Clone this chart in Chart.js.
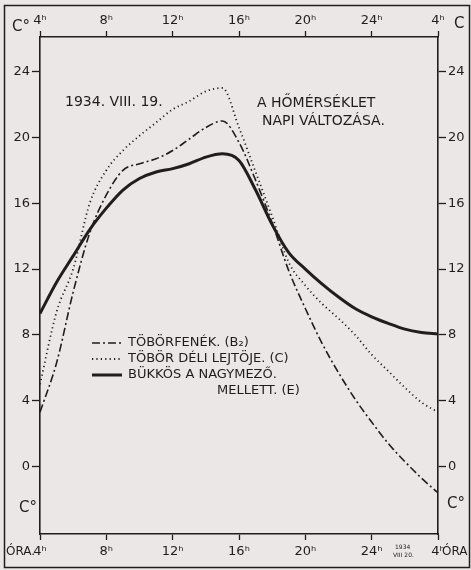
<!DOCTYPE html>
<html>
<head>
<meta charset="utf-8">
<script src="https://cdn.jsdelivr.net/npm/chart.js@4/dist/chart.umd.min.js"></script>
<style>
  html, body { margin: 0; padding: 0; background: #ebe7e6; }
  canvas { display: block; }
</style>
</head>
<body>
<canvas id="chart" width="471" height="570"></canvas>
<script>
// hours of the day (4h .. next day's 4h)
var hours  = [4, 5, 6, 7, 8, 9, 10, 11, 12, 13, 14, 15, 16, 17, 18, 19, 20, 21, 22, 23, 24, 25, 26, 27, 28];
// temperatures, °C
var tempB2 = [3.3, 6.3, 10.6, 14.2, 16.5, 18.0, 18.4, 18.7, 19.2, 19.9, 20.6, 21.0, 19.7, 17.4, 14.8, 11.9, 9.6, 7.5, 5.7, 4.1, 2.7, 1.4, 0.3, -0.7, -1.6];
var tempC  = [5.0, 9.4, 12.0, 16.0, 18.0, 19.2, 20.1, 20.9, 21.7, 22.2, 22.8, 23.0, 20.6, 17.9, 15.2, 12.4, 11.0, 9.9, 9.0, 8.0, 6.8, 5.8, 4.8, 3.9, 3.3];
var tempE  = [9.3, 11.2, 12.8, 14.4, 15.7, 16.8, 17.5, 17.9, 18.1, 18.4, 18.8, 19.0, 18.6, 16.8, 14.7, 13.0, 12.0, 11.1, 10.3, 9.6, 9.1, 8.7, 8.35, 8.15, 8.05];

var hourTicks  = [4, 8, 12, 16, 20, 24, 28];
var hourLabels = ['4ʰ', '8ʰ', '12ʰ', '16ʰ', '20ʰ', '24ʰ', '4ʰ'];
var tempTicks  = [0, 4, 8, 12, 16, 20, 24];
var seriesNames = ['TÖBÖRFENÉK. (B₂)', 'TÖBÖR DÉLI LEJTÖJE. (C)', 'BÜKKÖS A NAGYMEZŐ.'];

var ink = '#1f1d1d';
var paper = '#ebe7e6';
var font = 'DejaVu Sans';

function points(vals){
    return hours.map(function(h, i){ return {x: h, y: vals[i]}; });
}

function fixTicks(list){
    return function(scale){
        scale.ticks = list.map(function(v){ return {value: v}; });
    };
}

var decor = {
    id: 'decor',
    beforeDraw: function(chart){
        var ctx = chart.ctx;
        ctx.save();
        ctx.fillStyle = paper;
        ctx.fillRect(0, 0, chart.width, chart.height);
        ctx.restore();
    },
    afterDraw: function(chart){
        var ctx = chart.ctx;
        ctx.save();
        ctx.strokeStyle = ink;
        ctx.fillStyle = ink;
        ctx.lineWidth = 1.5;
        ctx.setLineDash([]);
        ctx.strokeRect(4.5, 5.5, chart.width - 6, chart.height - 8);

        ctx.textBaseline = 'middle';
        ctx.textAlign = 'left';
        ctx.font = '15px ' + font;
        ctx.fillText('C°', 12, 27);
        ctx.fillText('C', 454, 24);
        ctx.fillText('C°', 19, 508);
        ctx.fillText('C°', 447, 504);

        ctx.font = '12px ' + font;
        ctx.fillText('ÓRA.', 6, 552);
        ctx.fillText('ÓRA', 442, 552);
        ctx.font = '6px ' + font;
        ctx.fillText('1934', 395, 547);
        ctx.fillText('VIII 20.', 393, 555);

        ctx.font = '14px ' + font;
        ctx.fillText('1934. VIII. 19.', 65, 102, 105);
        ctx.fillText('A HŐMÉRSÉKLET', 257, 103, 127);
        ctx.fillText('NAPI VÁLTOZÁSA.', 262, 121, 131);

        // legend
        ctx.font = '13px ' + font;
        var rows = [343, 359, 375];
        chart.data.datasets.forEach(function(ds, i){
            var y = rows[i];
            ctx.lineWidth = ds.borderWidth;
            ctx.setLineDash(ds.borderDash || []);
            ctx.beginPath();
            ctx.moveTo(92, y);
            ctx.lineTo(122, y);
            ctx.stroke();
            ctx.fillText(ds.label, 128, y);
        });
        ctx.setLineDash([]);
        ctx.fillText('MELLETT. (E)', 217, 391);
        ctx.restore();
    }
};

var axisGrid = { drawOnChartArea: false, drawTicks: true, tickLength: 8, color: ink, tickWidth: 1.3 };
var axisBorder = { display: true, color: ink, width: 1.6 };
var tickFont = { family: font, size: 13 };

new Chart(document.getElementById('chart'), {
    type: 'line',
    data: {
        datasets: [
            { label: seriesNames[0], data: points(tempB2), borderColor: ink, borderWidth: 1.6, borderDash: [8, 3, 2, 3] },
            { label: seriesNames[1], data: points(tempC), borderColor: ink, borderWidth: 1.8, borderDash: [1.2, 3.2] },
            { label: seriesNames[2], data: points(tempE), borderColor: ink, borderWidth: 3 }
        ]
    },
    options: {
        responsive: false,
        animation: false,
        devicePixelRatio: 1,
        layout: { padding: 0 },
        elements: { point: { radius: 0 }, line: { cubicInterpolationMode: 'monotone', fill: false } },
        plugins: { legend: { display: false }, tooltip: { enabled: false } },
        scales: {
            x: {
                type: 'linear', position: 'bottom', min: 4, max: 28,
                afterBuildTicks: fixTicks(hourTicks),
                afterFit: function(s){ s.height = 36; },
                grid: Object.assign({}, axisGrid, { tickLength: 6 }),
                border: axisBorder,
                ticks: { color: ink, font: tickFont, padding: 4, maxRotation: 0, autoSkip: false,
                    callback: function(v){ return hourLabels[hourTicks.indexOf(v)]; } }
            },
            x2: {
                type: 'linear', position: 'top', min: 4, max: 28, display: true,
                afterBuildTicks: fixTicks(hourTicks),
                afterFit: function(s){ s.height = 37; },
                grid: Object.assign({}, axisGrid, { tickLength: 6 }),
                border: axisBorder,
                ticks: { color: ink, font: tickFont, padding: 3, maxRotation: 0, autoSkip: false,
                    callback: function(v){ return hourLabels[hourTicks.indexOf(v)]; } }
            },
            y: {
                type: 'linear', position: 'left', min: -4.1, max: 26.1,
                afterBuildTicks: fixTicks(tempTicks),
                afterFit: function(s){ s.width = 40; },
                grid: axisGrid,
                border: axisBorder,
                ticks: { color: ink, font: tickFont, padding: 2 }
            },
            y2: {
                type: 'linear', position: 'right', min: -4.1, max: 26.1, display: true,
                afterBuildTicks: fixTicks(tempTicks),
                afterFit: function(s){ s.width = 33; },
                grid: axisGrid,
                border: axisBorder,
                ticks: { color: ink, font: tickFont, padding: 2 }
            }
        }
    },
    plugins: [decor]
});
</script>
</body>
</html>
